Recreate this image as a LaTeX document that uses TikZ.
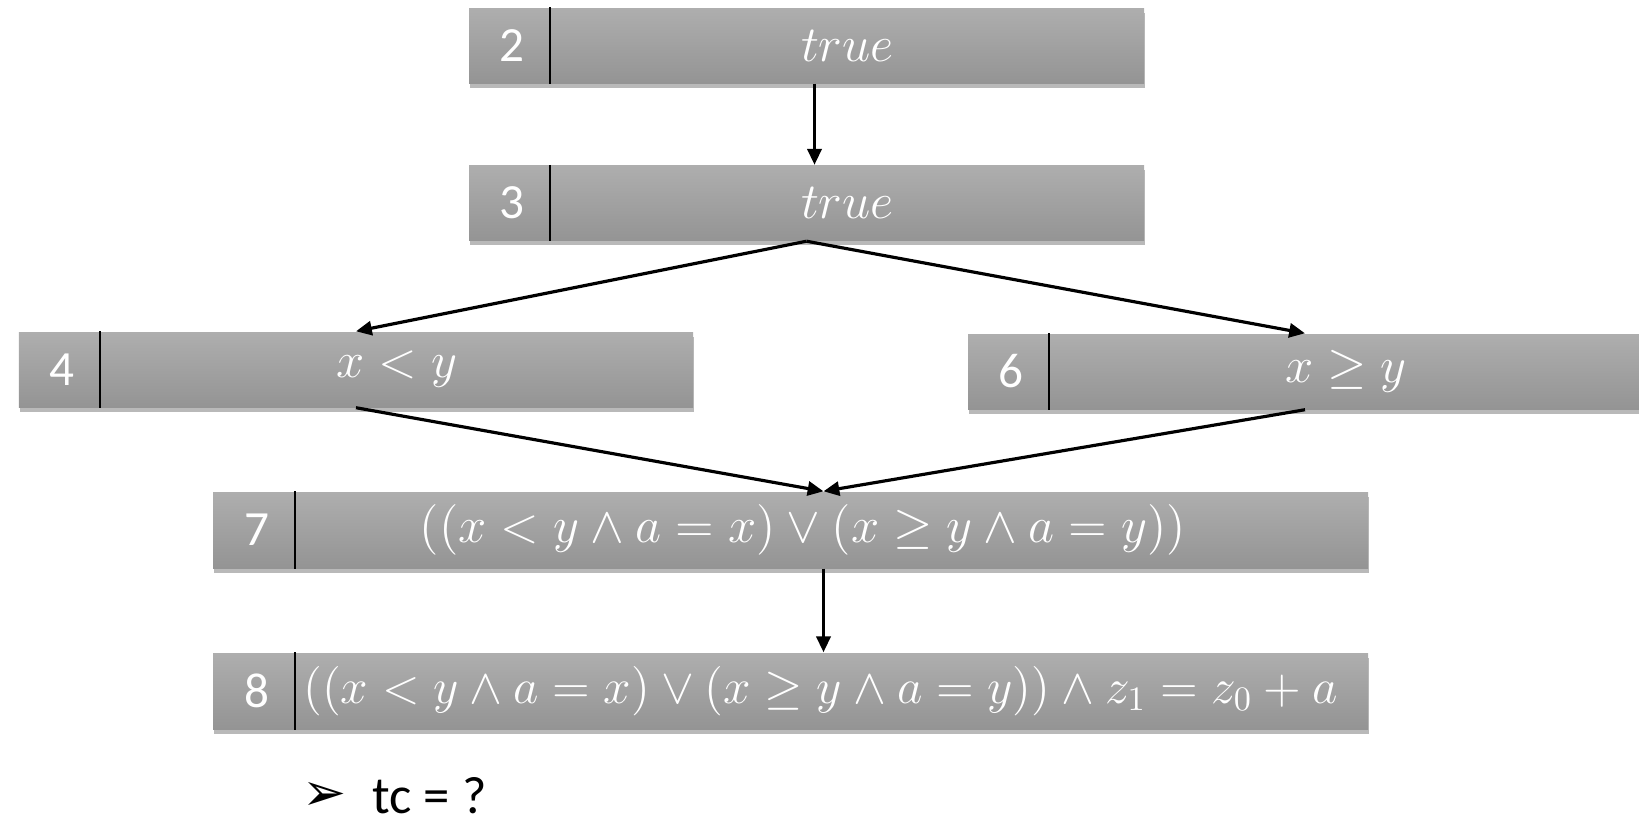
\documentclass[tikz,border=0pt]{standalone}
\usepackage{fontspec}
\setmainfont{Carlito}
\newfontfamily\dingfont{DejaVu Sans}
\usetikzlibrary{calc,shadows,arrows.meta}

\definecolor{boxtop}{RGB}{174,174,174}
\definecolor{boxbot}{RGB}{148,148,148}

\tikzset{
	stmt/.style={rectangle, inner sep=0pt, minimum height=0.75cm, top color=boxtop, bottom color=boxbot, drop shadow={opacity=0.55, shadow xshift=0.4pt, shadow yshift=-1.3pt}},
	lbl/.style={text=white, font=\fontsize{14}{16}\selectfont, inner sep=0pt},
	sep/.style={line width=0.6pt, black},
	flow/.style={line width=0.9pt, -{Triangle[length=4.5pt, width=4pt]}}
}

\begin{document}
\begin{tikzpicture}
	\useasboundingbox (0,0) rectangle (16.39,-8.22);

	\node[stmt, minimum width=6.75cm] (b2) at (8.065,-0.455) {};
	\node[lbl] (n2) at ($(b2.west)+(0.44,0)$) {2};
	\draw[sep] ($(b2.north west)+(0.82,0)$) -- ($(b2.south west)+(0.82,0)$);
	\node[lbl] (t2) at ($(b2.center)+(0.41,0)$) {$true$};

	\node[stmt, minimum width=6.75cm] (b3) at (8.065,-2.03) {};
	\node[lbl] (n3) at ($(b3.west)+(0.44,0)$) {3};
	\draw[sep] ($(b3.north west)+(0.82,0)$) -- ($(b3.south west)+(0.82,0)$);
	\node[lbl] (t3) at ($(b3.center)+(0.41,0)$) {$true$};

	\node[stmt, minimum width=6.74cm] (b4) at (3.56,-3.695) {};
	\node[lbl] (n4) at ($(b4.west)+(0.44,0)$) {4};
	\draw[sep] ($(b4.north west)+(0.82,0)$) -- ($(b4.south west)+(0.82,0)$);
	\node[lbl] (t4) at ($(b4.center)+(0.41,0)$) {$x<y$};

	\node[stmt, minimum width=6.74cm] (b6) at (13.05,-3.715) {};
	\node[lbl] (n6) at ($(b6.west)+(0.44,0)$) {6};
	\draw[sep] ($(b6.north west)+(0.82,0)$) -- ($(b6.south west)+(0.82,0)$);
	\node[lbl] (t6) at ($(b6.center)+(0.41,0)$) {$x\geq y$};

	\node[stmt, minimum width=11.55cm, minimum height=0.76cm] (b7) at (7.905,-5.30) {};
	\node[lbl] (n7) at ($(b7.west)+(0.45,0)$) {7};
	\draw[sep] ($(b7.north west)+(0.83,0)$) -- ($(b7.south west)+(0.83,0)$);
	\node[lbl] (t7) at ($(b7.center)+(0.125,0)$) {$\big((x<y\land a=x)\lor(x\geq y\land a=y)\big)$};

	\node[stmt, minimum width=11.55cm, minimum height=0.76cm] (b8) at (7.905,-6.91) {};
	\node[lbl] (n8) at ($(b8.west)+(0.45,0)$) {8};
	\draw[sep] ($(b8.north west)+(0.83,0)$) -- ($(b8.south west)+(0.83,0)$);
	\node[lbl] (t8) at ($(b8.center)+(0.30,0)$) {\scalebox{0.975}{$\big((x<y\land a=x)\lor(x\geq y\land a=y)\big)\land z_1=z_0+a$}};

	\coordinate (m7) at ($(b7.north)+(0.33,0)$);
	\draw[flow] ($(b2.south)+(0.08,0)$) -- ($(b3.north)+(0.08,0)$);
	\draw[flow] (b3.south) -- (b4.north);
	\draw[flow] (b3.south) -- (b6.north);
	\draw[flow] (b4.south) -- (m7);
	\draw[flow] (b6.south) -- (m7);
	\draw[flow] (b7.south -| m7) -- (b8.north -| m7);

	\node[inner sep=0pt, font=\dingfont\fontsize{15}{18}\selectfont] (bul) at (3.25,-7.96) {➢};
	\node[inner sep=0pt, anchor=west, font=\fontsize{15}{18}\selectfont] (tc) at (3.72,-7.96) {tc = ?};
\end{tikzpicture}
\end{document}
